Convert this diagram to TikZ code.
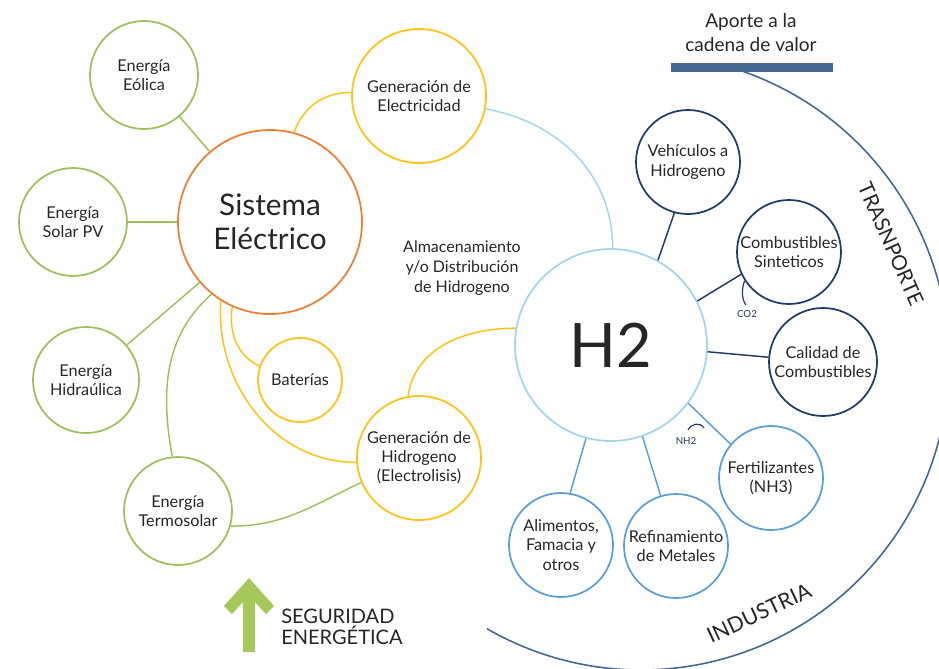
\documentclass[tikz,border=0pt]{standalone}
\usepackage{fontspec}
\setmainfont{Lato}
\definecolor{cgreen}{RGB}{158,192,92}
\definecolor{corange}{RGB}{237,125,49}
\definecolor{cyellow}{RGB}{255,194,20}
\definecolor{clblue}{RGB}{162,212,236}
\definecolor{cmblue}{RGB}{91,157,215}
\definecolor{cnavy}{RGB}{34,58,104}
\definecolor{csteel}{RGB}{70,104,146}
\definecolor{ctext}{RGB}{38,38,38}
\definecolor{carrow}{RGB}{166,200,90}
\begin{document}
\begin{tikzpicture}[x=0.75pt,y=-0.75pt,
  bub/.style={circle, draw, line width=1.3pt, inner sep=0pt, align=center, text=ctext,
    font=\fontsize{12.2}{14.3}\selectfont},
  gbub/.style={bub, draw=cgreen},
  ybub/.style={bub, draw=cyellow},
  nbub/.style={bub, draw=cnavy},
  mbub/.style={bub, draw=cmblue},
  gline/.style={draw=cgreen, line width=1.1pt},
  yline/.style={draw=cyellow, line width=1.1pt},
  bline/.style={draw=clblue, line width=1.1pt},
  nline/.style={draw=cnavy, line width=1.1pt},
  mline/.style={draw=cmblue, line width=1.1pt},
  lbl/.style={text=ctext, align=center},
  small/.style={text=cnavy, font=\fontsize{7.3}{8}\selectfont, inner sep=0pt}
]
\useasboundingbox (0,0) rectangle (939,668);
\clip (0,0) rectangle (939,668);

% nodes
\node[gbub, minimum size=81pt] (eolica) at (144,75) {Energía\\Eólica};
\node[gbub, minimum size=81pt] (solar) at (73,222) {Energía\\Solar PV};
\node[gbub, minimum size=79.5pt] (hidra) at (86,380) {Energía\\Hidraúlica};
\node[gbub, minimum size=81pt] (termo) at (178,511) {Energía\\Termosolar};
\node[bub, draw=corange, minimum size=138pt, font=\fontsize{22.3}{25.5}\selectfont] (sistema) at (270,222) {Sistema\\Eléctrico};
\node[ybub, minimum size=100.5pt] (genelec) at (419,96) {Generación de\\Electricidad};
\node[ybub, minimum size=63pt] (baterias) at (300,380) {Baterías};
\node[ybub, minimum size=93pt] (genhidr) at (419,458) {Generación de\\Hidrogeno\\(Electrolisis)};
\node[bub, draw=clblue, minimum size=144pt, font=\fontsize{46}{50}\selectfont] (h2) at (611,345) {H2};
\node[nbub, minimum size=78pt] (vehic) at (688,162) {Vehículos a\\Hidrogeno};
\node[nbub, minimum size=78pt] (comb) at (789,252) {Combustibles\\Sinteticos};
\node[nbub, minimum size=81pt] (calidad) at (823,362) {Calidad de\\Combustibles};
\node[mbub, minimum size=78pt] (fert) at (771,478) {Fertilizantes\\(NH3)};
\node[mbub, minimum size=78pt] (refin) at (676,546) {Refinamiento\\de Metales};
\node[mbub, minimum size=78pt] (alim) at (561,545) {Alimentos,\\Famacia y\\otros};

% free labels
\node[lbl, font=\fontsize{12}{14.8}\selectfont] (almac) at (462,268) {Almacenamiento\\y/o Distribución\\de Hidrogeno};
\node[lbl, font=\fontsize{14.3}{18}\selectfont] (aporte) at (751,33) {Aporte a la\\cadena de valor};
\node[fill=csteel, minimum width=121.5pt, minimum height=6.75pt, inner sep=0pt] (bar) at (752,67.5) {};
\node[lbl, font=\fontsize{15.5}{15.5}\selectfont, rotate=-66] (trans) at (891,244) {TRASNPORTE};
\node[lbl, font=\fontsize{16}{16}\selectfont, rotate=25] (indus) at (759,613) {INDUSTRIA};
\node[lbl, align=left, anchor=west, inner sep=0pt, font=\fontsize{15}{15.5}\selectfont] (seg) at (281,627) {SEGURIDAD\\ENERGÉTICA};

% outer arc
\coordinate (bigc) at (641,362);
\draw[csteel, line width=1.2pt] (bigc) ++(70.6:231pt) arc[start angle=70.6, end angle=-120, radius=231pt];

% arrow
\fill[carrow] (249,578) -- (274,606) -- (266,614) -- (255,602) -- (255,652) -- (243,652) -- (243,602) -- (232,614) -- (224,606) -- cycle;

% green connectors
\draw[gline] (eolica) -- (sistema);
\draw[gline] (solar) -- (sistema);
\draw[gline] (hidra) -- (sistema);
\draw[gline] (termo.96) .. controls (160,390) and (165,335) .. (sistema.231);
\draw[gline] (genhidr.203) to[out=205, in=0] (termo.344);

% yellow connectors
\draw[yline] (sistema.75) to[out=70, in=180] (genelec.177);
\draw[yline] (sistema.246) to[out=262, in=155] (baterias.161);
\draw[yline] (sistema.238) to[out=266, in=180] (genhidr.184);
\draw[yline] (genhidr.100) to[out=82, in=180] (h2.170);

% light blue
\draw[bline] (genelec.-11) to[out=-10, in=90] (h2.89);

% H2 to applications
\draw[nline] (h2.61) -- (vehic.255);
\draw[nline] (h2.27) -- (comb.205);
\draw[nline] (h2.-4) -- (calidad.175);
\draw[mline] (h2.-37) -- (fert.140);
\draw[mline] (h2.-71) -- (refin.107);
\draw[mline] (h2.-105) -- (alim.80);

% CO2 / NH2
\coordinate (co2e) at (746,305);
\draw[cnavy, line width=0.9pt] (comb.213) .. controls (741,290) and (742,300) .. (co2e);
\node[small] (co2) at (747,314) {CO2};
\coordinate (nh2a) at (688,430);
\coordinate (nh2b) at (704,428);
\draw[cnavy, line width=0.9pt] (nh2a) .. controls (692,423) and (700,422) .. (nh2b);
\node[small] (nh2) at (686,441) {NH2};
\end{tikzpicture}
\end{document}
